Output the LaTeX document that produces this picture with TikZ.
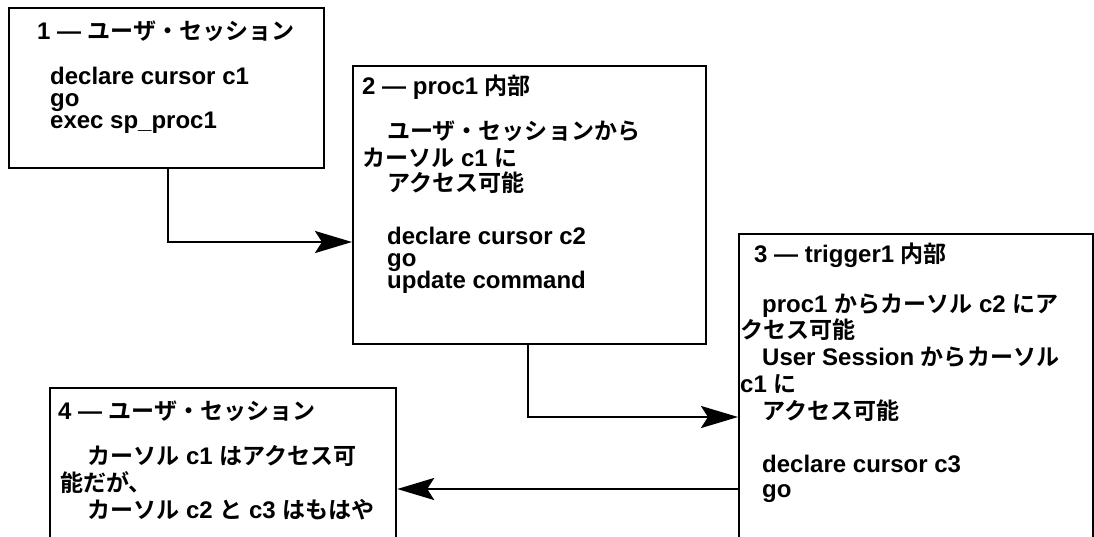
\documentclass[tikz,border=0pt]{standalone}
\usepackage{fontspec}
\setmainfont{Liberation Sans}
\newfontfamily\jp{Noto Sans CJK JP}[BoldFont={Noto Sans CJK JP Bold},Scale=0.96]
\usetikzlibrary{arrows.meta}
\begin{document}
\begin{tikzpicture}[x=1pt,y=-1pt,
  box/.style={draw, line width=2.2pt, inner sep=0pt, anchor=north west, fill=none},
  txt/.style={anchor=base west, inner sep=0pt, font=\fontsize{24}{28}\selectfont\bfseries},
  conn/.style={line width=2.8pt, -{Stealth[length=37pt,width=22pt,inset=7pt]}}]
\useasboundingbox (0,0) rectangle (1094,536);
\clip (0,0) rectangle (1094,536);
% boxes
\node[box, minimum width=315pt, minimum height=160pt] (b1) at (8,7) {};
\node[box, minimum width=353pt, minimum height=278pt] (b2) at (352,65) {};
\node[box, minimum width=354pt, minimum height=330pt] (b3) at (738,233) {};
\node[box, minimum width=346pt, minimum height=180pt] (b4) at (49,387) {};
% box 1
\node[txt] (t1a) at (37,39) {1 — {\jp ユーザ・セッション}};
\node[txt] (t1b) at (50,84) {declare cursor c1};
\node[txt] (t1c) at (50,106) {go};
\node[txt] (t1d) at (50,128) {exec sp\_proc1};
% box 2
\node[txt] (t2a) at (362,94) {2 — proc1 {\jp 内部}};
\node[txt] (t2b) at (387,139) {\jp ユーザ・セッションから};
\node[txt] (t2c) at (362,166) {{\jp カーソル} c1 {\jp に}};
\node[txt] (t2d) at (387,191) {\jp アクセス可能};
\node[txt] (t2e) at (387,244) {declare cursor c2};
\node[txt] (t2f) at (387,266) {go};
\node[txt] (t2g) at (387,288) {update command};
% box 3
\node[txt] (t3a) at (754,262) {3 — trigger1 {\jp 内部}};
\node[txt] (t3b) at (762,312) {proc1 {\jp からカーソル} c2 {\jp にア}};
\node[txt] (t3c) at (740,338) {\jp クセス可能};
\node[txt] (t3d) at (762,365) {User Session {\jp からカーソル}};
\node[txt] (t3e) at (740,392) {c1 {\jp に}};
\node[txt] (t3f) at (762,419) {\jp アクセス可能};
\node[txt] (t3g) at (762,472) {declare cursor c3};
\node[txt] (t3h) at (762,497) {go};
% box 4
\node[txt] (t4a) at (58,419) {4 — {\jp ユーザ・セッション}};
\node[txt] (t4b) at (87,464) {{\jp カーソル} c1 {\jp はアクセス可}};
\node[txt] (t4c) at (60,491) {\jp 能だが、};
\node[txt] (t4d) at (87,518) {{\jp カーソル} c2 {\jp と} c3 {\jp はもはや}};
% connectors
\draw[conn] (b1.south -| 168,0) |- (b2.west |- 0,242);
\draw[conn] (b2.south -| 528,0) |- (b3.west |- 0,417);
\draw[conn] (b3.west |- 0,489) -- (b4.east |- 0,489);
\end{tikzpicture}
\end{document}
